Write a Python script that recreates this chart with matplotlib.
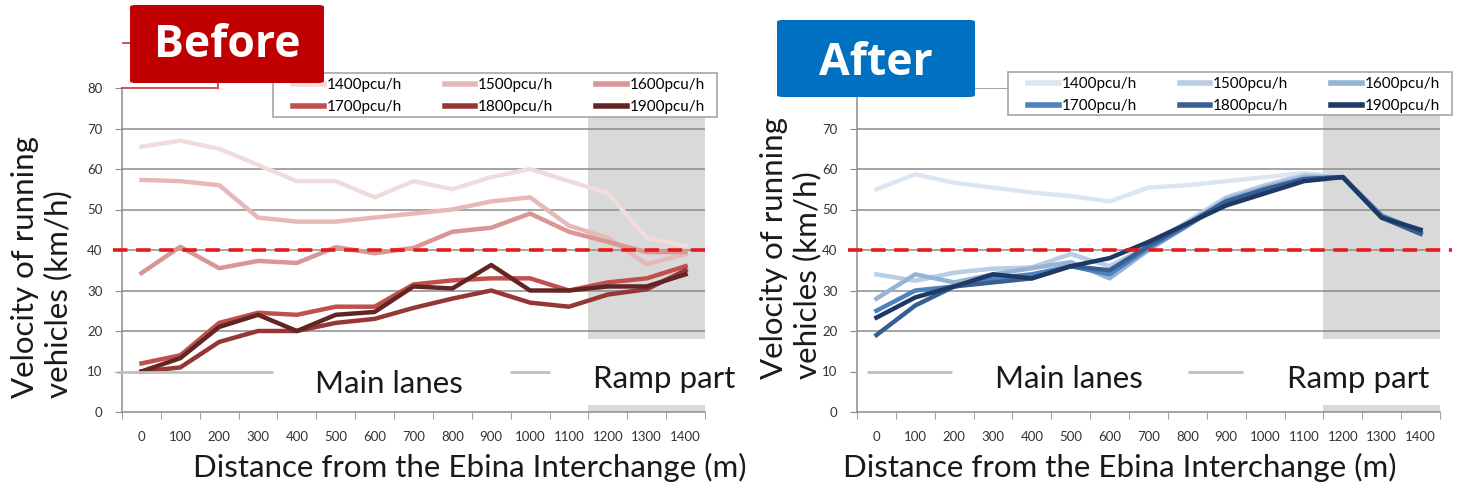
import matplotlib
matplotlib.use("Agg")
import matplotlib.pyplot as plt
from matplotlib.patches import Rectangle, FancyBboxPatch
from matplotlib.lines import Line2D

plt.rcParams['font.family'] = ['Lato', 'DejaVu Sans']

# --- data (km/h) ---
dist = [0, 100, 200, 300, 400, 500, 600, 700, 800, 900, 1000, 1100, 1200, 1300, 1400]
flows = ['1400pcu/h', '1500pcu/h', '1600pcu/h', '1700pcu/h', '1800pcu/h', '1900pcu/h']

before_1400 = [65.5, 67, 65, 61, 57, 57, 53, 57, 55, 58, 60, 57, 54, 43, 41]
before_1500 = [57.3, 57, 56, 48, 47, 47, 48, 49, 50, 52, 53, 46, 43, 36.5, 39]
before_1600 = [34.3, 40.8, 35.5, 37.3, 36.8, 40.7, 39.2, 40.5, 44.5, 45.5, 49, 44.5, 42, 39.5, 39.5]
before_1700 = [12, 14, 22, 24.5, 24, 26, 26, 31.5, 32.5, 33, 33, 30, 32, 33, 36]
before_1800 = [10, 11, 17.3, 20, 20, 22, 23, 25.7, 28, 30, 27, 26, 29, 30.3, 35]
before_1900 = [10, 13.3, 21, 24, 20, 24, 24.7, 31, 30.5, 36.3, 30, 30, 31, 31, 34]

after_1400 = [55, 58.7, 56.6, 55.4, 54.2, 53.3, 52, 55.4, 56, 57, 58, 59, 58, 48, 45]
after_1500 = [34, 32.4, 34.4, 35.4, 35.7, 39, 36, 41, 47, 53, 56, 58.5, 58, 48.5, 45]
after_1600 = [28, 34, 32, 34, 35.5, 37, 33, 40, 46, 52.5, 55.5, 58, 58, 48, 44]
after_1700 = [25, 30, 31, 33, 34, 36, 34, 40.5, 46, 52, 55, 57.5, 58, 48.5, 44.5]
after_1800 = [19, 26.3, 31, 32, 33, 36, 35, 41, 46.5, 52, 55, 57.5, 58, 48, 44]
after_1900 = [23.3, 28.3, 31, 34, 33, 36, 38, 42, 46.5, 51, 54, 57, 58, 48, 45]

before = [before_1400, before_1500, before_1600, before_1700, before_1800, before_1900]
after = [after_1400, after_1500, after_1600, after_1700, after_1800, after_1900]

red_cols = ['#F2DCDB', '#E6B9B8', '#D99694', '#C0504D', '#953735', '#632523']
blue_cols = ['#DCE6F2', '#B9CDE5', '#95B3D7', '#4F81BD', '#376092', '#1F3864']

W, H = 1460, 496


def fx(px):
    return px / W


def fy(py):
    return 1 - py / H


fig = plt.figure(figsize=(W / 100, H / 100), dpi=100)
fig.patch.set_facecolor('white')

grid_col = '#8C8C8C'
big = 22.5


def panel(left_px, series, colors, frame_box, show_top, handle_segs, main_pos, ramp_pos, dash_end):
    ax = fig.add_axes([fx(left_px), fy(412), 583 / W, 324 / H])
    ax.set_xlim(-50, 1450)
    ax.set_ylim(0, 80)
    # ramp shading
    ax.axvspan(1150, 1450, color='#D9D9D9', zorder=0, lw=0)
    # gridlines
    levels = [10, 20, 30, 40, 50, 60, 70] + ([80] if show_top else [])
    for g in levels:
        ax.axhline(g, color=grid_col, lw=1.1, zorder=1)
    lines = []
    for s, c in zip(series, colors):
        ln, = ax.plot(dist, s, color=c, lw=3.2, zorder=3)
        lines.append(ln)
    # white box for the lower "Main lanes / Ramp part" key
    ax.add_patch(Rectangle((-50, 1.7), 1500, 16.3, facecolor='white', edgecolor='none', zorder=2))
    for x0, x1 in handle_segs:
        ax.plot([x0, x1], [0.125, 0.125], transform=ax.transAxes, color='#BFBFBF', lw=2, zorder=4,
                solid_capstyle='butt', clip_on=False)
    ax.text(main_pos[0], main_pos[1], 'Main lanes', transform=ax.transAxes, fontsize=big,
            va='baseline', ha='left', color='#1a1a1a', zorder=5)
    ax.text(ramp_pos[0], ramp_pos[1], 'Ramp part', transform=ax.transAxes, fontsize=big,
            va='baseline', ha='left', color='#1a1a1a', zorder=5)
    # threshold 40 km/h
    ax.plot([-0.016, dash_end], [0.5, 0.5], transform=ax.transAxes,
            color='#E41A1C', lw=2.6, dashes=(4, 2.4), zorder=4, clip_on=False)

    # the 80 label of the After panel sits under the title box
    ax.set_yticks(range(0, 90, 10) if not show_top else range(0, 80, 10))
    ax.set_xticks(dist)
    ax.set_xticks([d - 50 for d in dist] + [1450], minor=True)
    ax.tick_params(axis='x', which='major', length=0, pad=14, labelsize=9.5, colors='#333333')
    ax.tick_params(axis='x', which='minor', length=5, color=grid_col, direction='out')
    ax.tick_params(axis='y', length=5, color=grid_col, pad=9, labelsize=9.5, labelcolor='#333333')
    for sp in ['top', 'right']:
        ax.spines[sp].set_visible(False)
    for sp in ['left', 'bottom']:
        ax.spines[sp].set_color(grid_col)
        ax.spines[sp].set_linewidth(1.1)

    # legend: frame drawn separately, entries filled row by row
    x0, y0, x1, y1 = frame_box
    ax.add_patch(Rectangle((fx(x0), fy(y1)), fx(x1) - fx(x0), fy(y0) - fy(y1),
                           transform=fig.transFigure, facecolor='white', edgecolor='#A6A6A6',
                           lw=1.2, zorder=5, clip_on=False))
    order = [0, 3, 1, 4, 2, 5]
    leg = ax.legend([lines[i] for i in order], [flows[i] for i in order], ncol=3, loc='upper left',
                    bbox_to_anchor=(fx(x0 + 20), fy(y0 + 5)), bbox_transform=fig.transFigure,
                    fontsize=11, frameon=False, handlelength=2.0, handletextpad=0.2,
                    labelspacing=0.55, borderpad=0, borderaxespad=0, columnspacing=2.8)
    for h in leg.legend_handles:
        h.set_linewidth(4)
    leg.set_zorder(6)
    return ax


ax1 = panel(122, before, red_cols, (273, 73, 717, 117), False,
            [(-0.007, 0.259), (0.666, 0.734)], (0.331, 0.059), (0.808, 0.074), 1.0)
ax2 = panel(857, after, blue_cols, (1008, 72, 1452, 115), True,
            [(0.017, 0.163), (0.568, 0.662)], (0.237, 0.074), (0.738, 0.074), 1.02)

# axis titles
for cx in [0.322, 0.767]:
    fig.text(cx, fy(467), 'Distance from the Ebina Interchange (m)', ha='center', va='center',
             fontsize=big, color='#1a1a1a')
for lx, ly in [(41.5, 398), (791, 379)]:
    fig.text(fx(lx), fy(ly), 'Velocity of running\nvehicles (km/h)', ha='center', va='bottom',
             rotation=90, fontsize=big, color='#1a1a1a', linespacing=1.2, multialignment='left')

# leftover red outline near the Before label
for (xa, ya), (xb, yb) in [((122, 88), (218, 88)), ((218, 82), (218, 88)), ((123, 43), (131, 43))]:
    fig.add_artist(Line2D([fx(xa), fx(xb)], [fy(ya), fy(yb)], color='#D04545', lw=1.3,
                          transform=fig.transFigure, zorder=7))

# Before / After labels
for (x0, y0, x1, y1), col, label, base in [((130, 5, 324, 83), '#C00000', 'Before', 57),
                                            ((777, 20, 975, 97), '#0070C0', 'After', 75)]:
    box = FancyBboxPatch((fx(x0), fy(y1)), fx(x1) - fx(x0), fy(y0) - fy(y1),
                         boxstyle='round,pad=0,rounding_size=0.004', transform=fig.transFigure,
                         facecolor=col, edgecolor='none', zorder=8)
    fig.add_artist(box)
    fig.text(fx((x0 + x1) / 2), fy(base), label, ha='center', va='baseline',
             fontsize=32, fontweight='bold', color='white', zorder=9,
             family=['Open Sans', 'DejaVu Sans'])

fig.savefig('out.png', dpi=100)
